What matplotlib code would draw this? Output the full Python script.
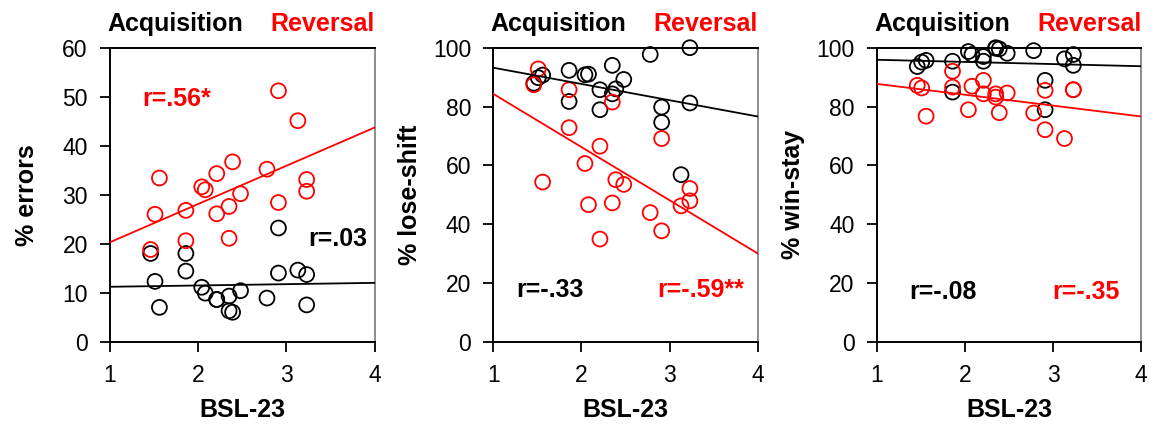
import matplotlib
matplotlib.use('Agg')
import matplotlib.pyplot as plt


# BSL-23 score per subject (shared x for all panels)
bsl = [1.46, 1.51, 1.56, 1.86, 1.86, 2.04, 2.08, 2.21, 2.21, 2.35,
       2.35, 2.39, 2.48, 2.78, 2.91, 2.91, 3.13, 3.23, 3.23]

errors_acq = [18.0, 12.3, 7.0, 18.0, 14.4, 11.1, 9.9, 8.6, 8.6, 9.3,
              6.3, 6.0, 10.4, 8.9, 23.2, 14.0, 14.6, 13.7, 7.5]
errors_rev = [18.8, 26.0, 33.4, 26.8, 20.6, 31.6, 31.0, 26.1, 34.3, 27.6,
              21.1, 36.7, 30.2, 35.2, 28.4, 51.2, 45.1, 33.1, 30.7]

loseshift_acq = [87.9, 89.8, 90.7, 92.3, 81.7, 90.8, 91.0, 85.7, 78.9, 94.0,
                 84.3, 86.0, 89.2, 97.7, 79.8, 74.6, 56.8, 100.0, 81.2]
loseshift_rev = [87.4, 92.8, 54.3, 85.7, 72.8, 60.6, 46.6, 66.5, 34.9, 81.5,
                 47.2, 55.1, 53.5, 43.9, 69.1, 37.7, 46.2, 52.1, 47.9]

winstay_acq = [93.6, 95.1, 95.7, 95.4, 84.9, 98.7, 97.7, 97.0, 95.4, 100.0,
               99.8, 99.6, 98.1, 99.0, 88.9, 78.9, 96.2, 97.7, 94.0]
winstay_rev = [87.2, 86.3, 76.7, 92.0, 86.6, 78.9, 86.9, 88.9, 84.3, 84.3,
               83.2, 77.9, 84.6, 77.8, 85.5, 72.1, 69.1, 85.7, 85.7]

# regression line values at BSL = 1 and BSL = 4
fit_x = [1, 4]
errors_acq_fit = [11.2, 12.0]
errors_rev_fit = [20.3, 43.7]
loseshift_acq_fit = [93.2, 76.6]
loseshift_rev_fit = [84.3, 30.0]
winstay_acq_fit = [95.9, 93.7]
winstay_rev_fit = [87.7, 76.6]

ylabels = ['% errors', '% lose-shift', '% win-stay']
y_max = [60, 100, 100]
y_step = [10, 20, 20]
r_acq = ['r=.03', 'r=-.33', 'r=-.08']
r_rev = ['r=.56*', 'r=-.59**', 'r=-.35']

# text placement (data coords) for the r labels
r_acq_pos = [(3.92, 21, 'right'), (1.26, 17.5, 'left'), (1.37, 17, 'left')]
r_rev_pos = [(1.36, 49.5, 'left'), (3.84, 17.5, 'right'), (3.76, 17, 'right')]

RED = '#ff0000'
plt.rcParams['font.family'] = ['Liberation Sans', 'DejaVu Sans']


def draw_panel(ax, i, acq, rev, acq_fit, rev_fit):
    ax.scatter(bsl, acq, s=115, facecolors='none', edgecolors='black',
               linewidths=1.3, clip_on=False, zorder=3)
    ax.scatter(bsl, rev, s=115, facecolors='none', edgecolors=RED,
               linewidths=1.3, clip_on=False, zorder=3)
    ax.plot(fit_x, acq_fit, color='black', lw=1.3, zorder=4)
    ax.plot(fit_x, rev_fit, color=RED, lw=1.3, zorder=4)

    ax.set_xlim(1, 4)
    ax.set_ylim(0, y_max[i])
    ax.set_xticks([1, 2, 3, 4])
    ax.set_yticks(range(0, y_max[i] + 1, y_step[i]))
    ax.tick_params(direction='out', length=7, width=1.3, labelsize=16.5, pad=9)
    for side in ['left', 'bottom', 'top']:
        ax.spines[side].set_linewidth(1.4)
    ax.spines['right'].set_color('#8c8c8c')
    ax.spines['right'].set_linewidth(1.4)

    ax.set_ylabel(ylabels[i], fontsize=18, fontweight='bold')
    ax.yaxis.set_label_coords(-0.27, 0.5)
    ax.set_xlabel('BSL-23', fontsize=18, fontweight='bold')
    ax.xaxis.set_label_coords(0.5, -0.19)

    ax.text(-0.01, 1.08, 'Acquisition', transform=ax.transAxes, fontsize=18,
            fontweight='bold', color='black', ha='left', va='center')
    ax.text(1.0, 1.08, 'Reversal', transform=ax.transAxes, fontsize=18,
            fontweight='bold', color=RED, ha='right', va='center')

    x, y, ha = r_acq_pos[i]
    ax.text(x, y, r_acq[i], fontsize=18, fontweight='bold', color='black',
            ha=ha, va='center')
    x, y, ha = r_rev_pos[i]
    ax.text(x, y, r_rev[i], fontsize=18, fontweight='bold', color=RED,
            ha=ha, va='center')


def main():
    fig = plt.figure(figsize=(11.56, 4.26), dpi=100)
    lefts = [0.0952, 0.4267, 0.7584]
    panels = [
        (errors_acq, errors_rev, errors_acq_fit, errors_rev_fit),
        (loseshift_acq, loseshift_rev, loseshift_acq_fit, loseshift_rev_fit),
        (winstay_acq, winstay_rev, winstay_acq_fit, winstay_rev_fit),
    ]
    for i, (left, data) in enumerate(zip(lefts, panels)):
        ax = fig.add_axes([left, 0.198, 0.2288, 0.690])
        draw_panel(ax, i, *data)
    fig.savefig('out.png', dpi=100, facecolor='white')
    plt.close(fig)


if __name__ == '__main__':
    main()
